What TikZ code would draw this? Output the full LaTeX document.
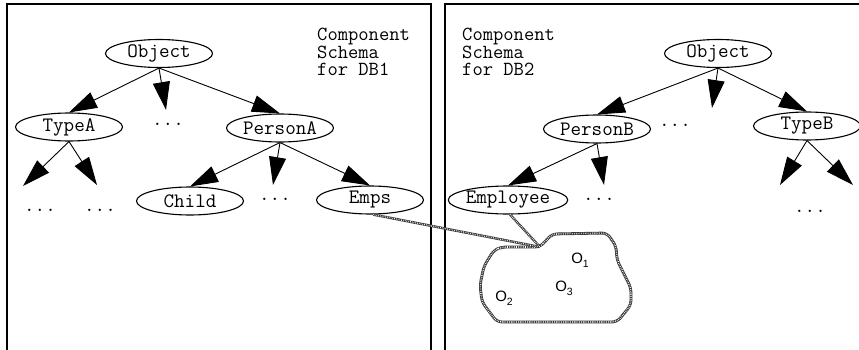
\documentclass[tikz,border=0pt]{standalone}
\usepackage{fontspec}
\newfontfamily\cloudfont{Liberation Sans}
\usetikzlibrary{shapes.geometric,arrows.meta}
\begin{document}
\begin{tikzpicture}[x=1pt,y=-1pt,
  every node/.style={font=\ttfamily\fontsize{20.5}{17}\selectfont},
  cls/.style={ellipse,draw,line width=1.1pt,minimum width=107pt,minimum height=28pt,inner sep=0pt},
  dots/.style={inner sep=0pt},
  caption/.style={anchor=base west,inner sep=0pt,text height=12pt,text depth=4pt,font=\ttfamily\fontsize{20}{17}\selectfont},
  isa/.style={line width=0.9pt,-{Triangle[length=28pt,width=17pt]}},
  boxline/.style={line width=2pt},
  rope/.style={draw=black!80,line width=#1,postaction={draw=white,line width=0.55*#1,dash pattern=on 0.6pt off 1.2pt}},
  rope/.default=2.8pt,
  obj/.style={font=\cloudfont\fontsize{15}{15}\selectfont,inner sep=0pt}]
\useasboundingbox (0,0) rectangle (859,350);
\fill[white] (0,0) rectangle (859,350);

% boxes
\draw[boxline] (7,352) -- (7,4) -- (431,4) -- (431,352);
\draw[boxline] (445,352) -- (445,4) -- (862,4);

% ---------- left schema ----------
\node[caption] (capA1) at (317,41) {Component};
\node[caption] (capA2) at (317,58.5) {Schema};
\node[caption] (capA3) at (317,76) {for DB1};
\node[cls] (objA) at (159,53.5) {Object};
\node[cls] (typeA) at (69,127) {TypeA};
\node[cls] (personA) at (280,128) {PersonA};
\node[dots] (dA1) at (168,124) {...};
\node[cls] (child) at (190,201) {Child};
\node[cls] (emps) at (370,200) {Emps};
\node[dots] (dA2) at (275,199) {...};
\node[dots] (dA3) at (40,210) {...};
\node[dots] (dA4) at (100,210) {...};
\coordinate (tA1) at (166,110);
\coordinate (tA2) at (23,186);
\coordinate (tA3) at (97,185);
\coordinate (tA4) at (273,185);

\draw[isa] (objA.south) -- (typeA.north);
\draw[isa] (objA.south) -- (tA1);
\draw[isa] (objA.south) -- (personA.north);
\draw[isa] (typeA.south) -- (tA2);
\draw[isa] (typeA.south) -- (tA3);
\draw[isa] (personA.south) -- (child.north);
\draw[isa] (personA.south) -- (tA4);
\draw[isa] (personA.south) -- (emps.north);

% ---------- right schema ----------
\node[caption] (capB1) at (462,41) {Component};
\node[caption] (capB2) at (462,58.5) {Schema};
\node[caption] (capB3) at (462,76) {for DB2};
\node[cls] (objB) at (718,53.5) {Object};
\node[cls] (personB) at (597,129) {PersonB};
\node[cls] (typeB) at (807,126) {TypeB};
\node[dots] (dB1) at (675,125) {...};
\node[cls] (employee) at (508,200) {Employee};
\node[dots] (dB2) at (599,199) {...};
\node[dots] (dB3) at (810,211) {...};
\coordinate (tB1) at (712,108);
\coordinate (tB2) at (604,185);
\coordinate (tB3) at (780,185);
\coordinate (tB4) at (853,185);

\draw[isa] (objB.south) -- (personB.north);
\draw[isa] (objB.south) -- (tB1);
\draw[isa] (objB.south) -- (typeB.north);
\draw[isa] (personB.south) -- (employee.north);
\draw[isa] (personB.south) -- (tB2);
\draw[isa] (typeB.south) -- (tB3);
\draw[isa] (typeB.south) -- (tB4);

% ---------- extent cloud ----------
\coordinate (notch) at (540,247);
\draw[rope,rounded corners=5pt] (notch) -- (552,234) -- (607,233) -- (616,246) -- (617,260)
  -- (631,288) -- (631,305) -- (617,322) -- (497,322) -- (482,302) -- (480,285)
  -- (484,266) -- (494,250) -- (502,247) -- cycle;
\draw[rope=2.4pt] ([xshift=3pt]emps.south) -- (notch);
\draw[rope=2.4pt] ([xshift=2pt]employee.south) -- (notch);

\node[obj] (o1) at (580,260) {O\raisebox{-4pt}{\fontsize{10.5}{10.5}\selectfont 1}};
\node[obj] (o2) at (504,298) {O\raisebox{-4pt}{\fontsize{10.5}{10.5}\selectfont 2}};
\node[obj] (o3) at (564,288) {O\raisebox{-4pt}{\fontsize{10.5}{10.5}\selectfont 3}};
\end{tikzpicture}
\end{document}
